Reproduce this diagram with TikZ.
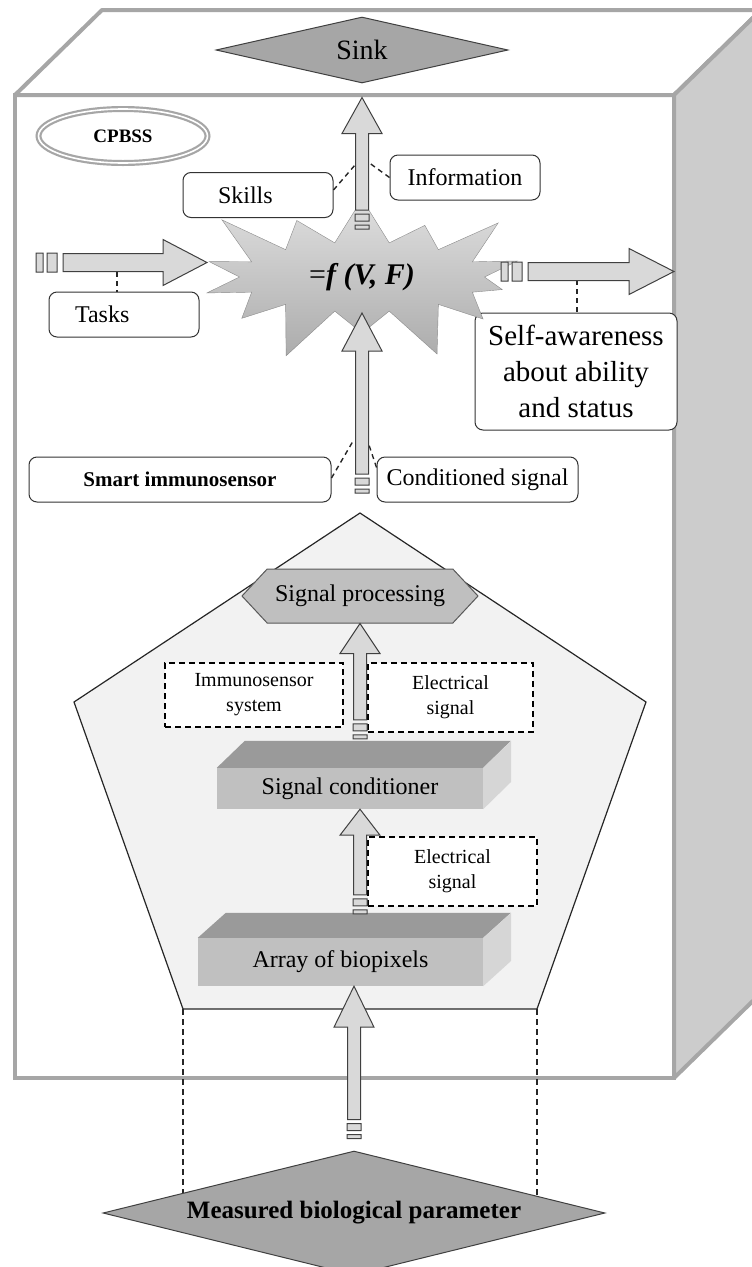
\documentclass[tikz,border=0pt]{standalone}
\usepackage{fontspec}
\setmainfont{Liberation Serif}
\usetikzlibrary{positioning,calc,shapes.geometric,shapes.symbols}

\definecolor{boxgray}{HTML}{A6A6A6}
\definecolor{sidegray}{HTML}{CCCCCC}
\definecolor{arrfill}{HTML}{D9D9D9}
\definecolor{arrline}{HTML}{404040}
\definecolor{pentfill}{HTML}{F2F2F2}
\definecolor{procfill}{HTML}{BFBFBF}
\definecolor{blkfront}{HTML}{C0C0C0}
\definecolor{blktop}{HTML}{9A9A9A}
\definecolor{blkside}{HTML}{D6D6D6}

\begin{document}
\begin{tikzpicture}[x=1pt, y=-1pt,
    arrhead/.store in=\arrhead, arrhead=34pt,
    barrow/.style={fill=arrfill, draw=arrline, line width=1pt},
    uparr/.style={barrow, to path={let \p1=(\tikztostart), \p2=(\tikztotarget) in
        (\x2-6.5pt,\y1) -- (\x2-6.5pt,\y2-\arrhead) -- (\x2-20pt,\y2-\arrhead) -- (\x2,\y2)
        -- (\x2+20pt,\y2-\arrhead) -- (\x2+6.5pt,\y2-\arrhead) -- (\x2+6.5pt,\y1) -- cycle
        (\x2-7pt,\y1-4pt) rectangle (\x2+7pt,\y1-11pt)
        (\x2-7pt,\y1-15pt) rectangle (\x2+7pt,\y1-19pt)}},
    rightarr/.style={barrow, to path={let \p1=(\tikztostart), \p2=(\tikztotarget) in
        (\x1,\y2+9pt) -- (\x2-\arrhead,\y2+9pt) -- (\x2-\arrhead,\y2+23pt) -- (\x2,\y2)
        -- (\x2-\arrhead,\y2-23pt) -- (\x2-\arrhead,\y2-9pt) -- (\x1,\y2-9pt) -- cycle
        (\x1-6pt,\y2+9.5pt) rectangle (\x1-16pt,\y2-9.5pt)
        (\x1-20pt,\y2+9.5pt) rectangle (\x1-27pt,\y2-9.5pt)}},
    frontface/.style={rectangle, draw=boxgray, line width=4pt, fill=white, inner sep=0pt, outer sep=0pt},
    face/.style={draw=boxgray, line width=4pt, line join=round},
    gem/.style={diamond, fill=boxgray, draw=arrline, line width=1pt, inner sep=0pt},
    rbox/.style={rectangle, draw=black!80, rounded corners=8pt, fill=white, line width=1pt,
        inner sep=0pt, minimum height=45pt, font=\fontsize{24}{28}\selectfont},
    dbox/.style={rectangle, draw, dash pattern=on 6pt off 4pt, line width=1.4pt, fill=white,
        inner sep=0pt, align=center, font=\fontsize{20}{25}\selectfont},
    blockfront/.style={rectangle, fill=blkfront, inner sep=0pt, font=\fontsize{24}{28}\selectfont},
    dline/.style={draw=black!85, dash pattern=on 5pt off 4pt, line width=1.4pt}
    ]
    \useasboundingbox (0,0) rectangle (752,1267);

    %% CPBSS box
    \node[frontface, minimum width=659pt, minimum height=983pt](front) at (344.5,586.5) {};
    \draw[face, fill=white] (front.north west) -- ++(87,-85) -- ++(659,0) -- (front.north east) -- cycle;
    \draw[face, fill=sidegray] (front.north east) -- ++(87,-85) -- ++(0,983) -- (front.south east) -- cycle;

    \node[gem, shape aspect=4.4, minimum width=292pt, minimum height=66pt,
        font=\fontsize{28}{30}\selectfont](sink) at (362,50) {Sink};

    \node[ellipse, draw=boxgray, line width=2.2pt, double=white, double distance=1.6pt,
        minimum width=169pt, minimum height=54pt, font=\bfseries\fontsize{19}{22}\selectfont](cpbss) at (123,136) {CPBSS};

    %% Inputs and outputs of the function
    \node[rbox, text width=80pt, inner xsep=35pt, align=left](skills) at (258,195) {Skills};
    \node[rbox, minimum width=150pt](info) at (465,177.5) {Information};
    \node[rbox, text width=98pt, inner xsep=26pt, align=left](tasks) at (124,314.5) {Tasks};
    \node[rbox, minimum width=202pt, minimum height=117pt, align=center,
        font=\fontsize{29}{36}\selectfont](selfaw) at (576,371.5) {Self-awareness\\about ability\\and status};

    \node[starburst, starburst points=14, starburst point height=60pt, minimum width=365pt, minimum height=190pt,
        top color=gray!25, bottom color=gray!65, draw=gray!90, inner sep=0pt,
        font=\fontsize{30}{34}\selectfont](star) at (362,277) {=\textbf{\textit{f (V, F)}}};

    %% Smart immunosensor
    \coordinate (ptop) at (360,513);
    \coordinate (pr) at (646,702);
    \coordinate (pbr) at (537,1009);
    \coordinate (pbl) at (183,1009);
    \coordinate (pl) at (74,702);
    \draw[fill=pentfill, draw=black!85, line width=1.2pt] (ptop) -- (pr) -- (pbr) -- (pbl) -- (pl) -- cycle;

    \node[rbox, minimum width=302pt, font=\bfseries\fontsize{21}{24}\selectfont](smart) at (180,479.5) {Smart immunosensor};
    \node[rbox, minimum width=201pt](condsig) at (477.5,479.5) {Conditioned signal};

    \node[signal, signal to=west and east, signal pointer angle=94, fill=procfill, draw=black!65, line width=1pt,
        minimum width=236pt, minimum height=54pt, inner sep=0pt,
        font=\fontsize{24}{28}\selectfont](sigproc) at (360,596) {Signal processing};

    \node[dbox, minimum width=178pt, minimum height=64pt](immsys) at (254,695) {Immunosensor\\system};
    \node[dbox, minimum width=165pt, minimum height=69pt](elec1) at (450.5,697.5) {Electrical\\signal};
    \node[dbox, minimum width=169pt, minimum height=69pt](elec2) at (452.5,871.5) {Electrical\\signal};

    \node[blockfront, minimum width=266pt, minimum height=41pt](sigcond) at (350,788.5) {Signal conditioner};
    \fill[blktop] (sigcond.north west) -- ++(28,-27) -- ++(266,0) -- (sigcond.north east) -- cycle;
    \fill[blkside] (sigcond.north east) -- ++(28,-27) -- ++(0,41) -- (sigcond.south east) -- cycle;

    \node[blockfront, minimum width=285pt, minimum height=48pt](array) at (340.5,962) {Array of biopixels};
    \fill[blktop] (array.north west) -- ++(28,-25) -- ++(285,0) -- (array.north east) -- cycle;
    \fill[blkside] (array.north east) -- ++(28,-25) -- ++(0,48) -- (array.south east) -- cycle;

    %% Measured parameter
    \draw[dline, dash pattern=on 6pt off 4pt] (pbl) -- (pbl |- 0,1213);
    \draw[dline, dash pattern=on 6pt off 4pt] (pbr) -- (pbr |- 0,1213);
    \node[gem, shape aspect=4, minimum width=502pt, minimum height=124pt,
        font=\bfseries\fontsize{25}{28}\selectfont](measured) at (354,1213) {Measured biological parameter};

    %% Dashed labels
    \coordinate (a1l) at (355,165);
    \coordinate (a1r) at (368,162);
    \coordinate (a2b) at (117,272);
    \coordinate (a3b) at (577,280);
    \coordinate (a4l) at (352.5,442);
    \coordinate (a4r) at (368,442);
    \draw[dline] ([yshift=5pt]skills.east) -- (a1l);
    \draw[dline] (info.west) -- (a1r);
    \draw[dline] (a2b) -- (a2b |- tasks.north);
    \draw[dline] (a3b) -- (a3b |- selfaw.north);
    \draw[dline] ([yshift=1.5pt]smart.east) -- (a4l);
    \draw[dline] ([yshift=12pt]condsig.west) -- (a4r);

    %% Block arrows
    \coordinate (taskin) at (63,262.5);
    \coordinate (a3s) at ([xshift=166pt,yshift=5.5pt]star.center);
    \draw[uparr, arrhead=36pt] ([yshift=67pt]star.center) to ([yshift=-14pt]sink.south);
    \draw[rightarr, arrhead=44pt] (taskin) to ([xshift=-155pt,yshift=14.5pt]star.center);
    \draw[rightarr, arrhead=45pt] (a3s) to (a3s -| front.east);
    \draw[uparr, arrhead=38pt] ([yshift=39pt]ptop) to ([yshift=-36pt]star.center);
    \draw[uparr, arrhead=30pt] ([yshift=48pt]sigcond.north) to (sigproc.south);
    \draw[uparr, arrhead=26pt] ([yshift=43pt]array.north) to (sigproc.south |- sigcond.south);
    \draw[uparr, arrhead=41pt] ([yshift=31pt]measured.north) to (measured.north |- array.south);
\end{tikzpicture}
\end{document}
